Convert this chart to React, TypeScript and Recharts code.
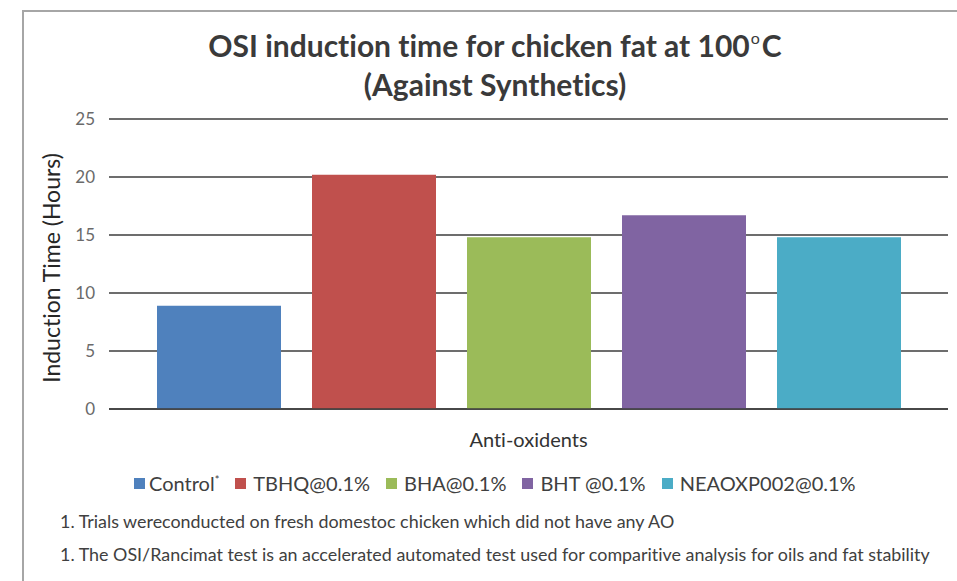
import React from "react";
import { BarChart, Bar, XAxis, YAxis, CartesianGrid } from "recharts";

const categories = ["Anti-oxidents"];
const seriesNames = ["Control", "TBHQ@0.1%", "BHA@0.1%", "BHT @0.1%", "NEAOXP002@0.1%"];
const seriesKeys = ["control", "tbhq", "bha", "bht", "neaoxp"];
const seriesValues = [8.9, 20.2, 14.8, 16.7, 14.8];
const seriesColors = ["#4F81BD", "#C0504D", "#9BBB59", "#8064A2", "#4BACC6"];
const yTicks = [0, 5, 10, 15, 20, 25];
const footnotes = [
  "1. Trials wereconducted on fresh domestoc chicken which did not have any AO",
  "1. The OSI/Rancimat test is an accelerated automated test used for comparitive analysis for oils and fat stability",
];

const data = categories.map((c) => {
  const row: Record<string, string | number> = { name: c };
  seriesKeys.forEach((k, i) => (row[k] = seriesValues[i]));
  return row;
});

const FONT = "Lato, 'Noto Sans', sans-serif";
const TEXT = "#404040";

export default function App() {
  return (
    <div
      style={{
        position: "absolute",
        left: 0,
        top: 0,
        width: 957,
        height: 581,
        background: "#fff",
        overflow: "hidden",
        fontFamily: FONT,
        fontVariantLigatures: "none",
      }}
    >
      <div
        style={{
          position: "absolute",
          left: 22,
          top: 10,
          width: 1000,
          height: 700,
          borderLeft: "2px solid #a6a6a6",
          borderTop: "2px solid #a6a6a6",
        }}
      />
      <div
        style={{
          position: "absolute",
          left: 0,
          top: 26,
          width: 990,
          textAlign: "center",
          fontSize: 30,
          fontWeight: 700,
          color: "#3a3a3a",
          lineHeight: "39px",
        }}
      >
        <div>
          OSI induction time for chicken fat at 100
          <span style={{ fontSize: 16, fontWeight: 400, position: "relative", top: -13, marginLeft: 1, marginRight: 2, lineHeight: "1" }}>o</span>C
        </div>
        <div>(Against Synthetics)</div>
      </div>
      <div style={{ position: "absolute", left: 0, top: 0 }}>
        <BarChart
          width={957}
          height={581}
          data={data}
          margin={{ top: 119, right: 9, bottom: 132, left: 49 }}
          barGap={31}
          barCategoryGap={48}
        >
          <CartesianGrid vertical={false} stroke="#3c3c3c" strokeWidth={1.5} />
          <XAxis
            dataKey="name"
            height={40}
            tickLine={false}
            tickSize={0}
            tickMargin={24}
            axisLine={{ stroke: "#3c3c3c", strokeWidth: 1.5 }}
            tick={{ fill: "#333", fontSize: 20, fontFamily: FONT }}
          />
          <YAxis
            width={60}
            domain={[0, 25]}
            ticks={yTicks}
            axisLine={false}
            tickLine={false}
            tickSize={0}
            tickMargin={14}
            tick={{ fill: "#6a6a6a", fontSize: 17, fontFamily: FONT }}
          />
          {seriesKeys.map((k, i) => (
            <Bar key={k} dataKey={k} name={seriesNames[i]} fill={seriesColors[i]} isAnimationActive={false} />
          ))}
        </BarChart>
      </div>
      <svg style={{ position: "absolute", left: 0, top: 0 }} width={957} height={581}>
        <text
          x={0}
          y={0}
          transform="translate(60,268) rotate(-90)"
          textAnchor="middle"
          fontSize={23}
          fill="#262626"
          fontFamily={FONT}
        >
          Induction Time (Hours)
        </text>
      </svg>
      <div
        style={{
          position: "absolute",
          left: 134,
          top: 471,
          display: "flex",
          alignItems: "center",
          fontSize: 20,
          color: TEXT,
          whiteSpace: "nowrap",
        }}
      >
        {seriesNames.map((n, i) => (
          <div key={n} style={{ display: "flex", alignItems: "center", marginRight: 16 }}>
            <span
              style={{
                display: "inline-block",
                width: 11,
                height: 11,
                background: seriesColors[i],
                marginRight: i === 0 ? 4 : 7,
              }}
            />
            <span>
              {n}
              {i === 0 ? <sup style={{ fontSize: 11, verticalAlign: "7px" }}>*</sup> : null}
            </span>
          </div>
        ))}
      </div>
      <div
        style={{
          position: "absolute",
          left: 60,
          top: 505,
          fontSize: 17.9,
          lineHeight: "33px",
          color: TEXT,
          whiteSpace: "nowrap",
        }}
      >
        {footnotes.map((f, i) => (
          <div key={i}>{f}</div>
        ))}
      </div>
    </div>
  );
}
